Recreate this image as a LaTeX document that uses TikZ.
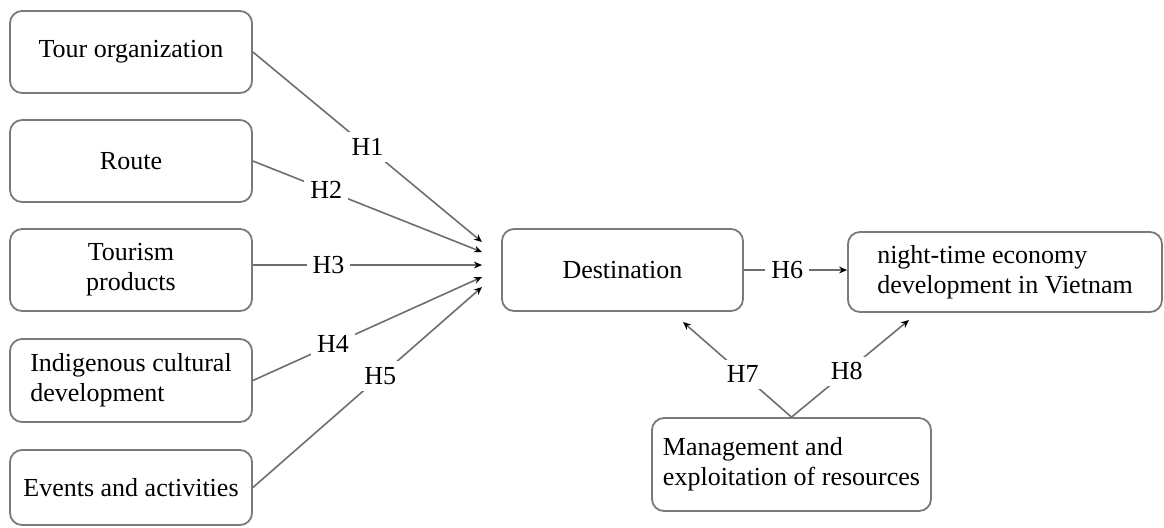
\documentclass[tikz,border=0pt]{standalone}
\usepackage{fontspec}
\setmainfont{Liberation Serif}
\newfontfamily\diagfont{Liberation Serif}
\usetikzlibrary{arrows.meta,calc}
\definecolor{boxgray}{HTML}{7A7A7A}
\definecolor{linegray}{HTML}{6E6E6E}
\begin{document}
\begin{tikzpicture}[x=0.5pt,y=-0.5pt,
  box/.style={draw=boxgray, line width=0.9pt, rounded corners=6pt, align=left,
    font=\diagfont\fontsize{13}{15}\selectfont, inner sep=0pt},
  conn/.style={draw=linegray, line width=0.8pt},
  arr/.style={conn, -{Stealth[length=4pt,width=3.4pt,color=black]}},
  hlab/.style={fill=white, font=\diagfont\fontsize{13}{15}\selectfont, inner sep=3pt}]
\useasboundingbox (0,0) rectangle (1164,527);

\node[box, minimum width=121pt, minimum height=41pt] (tour) at (131,52) {Tour organization};
\node[box, minimum width=121pt, minimum height=41pt] (route) at (131,161) {Route};
\node[box, minimum width=121pt, minimum height=41pt, align=center] (prod) at (131,270) {Tourism\\products};
\node[box, minimum width=121pt, minimum height=41.5pt] (indig) at (131,380.5) {Indigenous cultural\\development};
\node[box, minimum width=121pt, minimum height=37.5pt] (events) at (131,487.5) {Events and activities};
\node[box, minimum width=120.5pt, minimum height=41pt] (dest) at (622.5,270) {Destination};
\node[box, minimum width=157pt, minimum height=40pt] (night) at (1005,272) {night-time economy\\development in Vietnam};
\node[box, minimum width=139.5pt, minimum height=46.5pt] (mgmt) at (791.5,464.5) {Management and\\exploitation of resources};

\coordinate (t1) at (482,242);
\coordinate (t2) at (482,252);
\coordinate (t3) at (482,265);
\coordinate (t4) at (482,277);
\coordinate (t5) at (482,287);
\coordinate (d7) at (683,322);
\coordinate (n8) at (909,320);

\draw[arr] (tour.east) -- node[hlab,pos=0.5]{H1} (t1);
\draw[arr] (route.east) -- node[hlab,pos=0.32]{H2} (t2);
\draw[arr] (prod.east |- t3) -- node[hlab,pos=0.33]{H3} (t3);
\draw[arr] (indig.east) -- node[hlab,pos=0.35]{H4} (t4);
\draw[arr] (events.east) -- node[hlab,pos=0.556]{H5} (t5);
\draw[arr] (dest.east) -- node[hlab,pos=0.42]{H6} (dest.east -| night.west);
\draw[arr] (mgmt.north) -- node[hlab,pos=0.45]{H7} (d7);
\draw[arr] (mgmt.north) -- node[hlab,pos=0.47]{H8} (n8);
\end{tikzpicture}
\end{document}
